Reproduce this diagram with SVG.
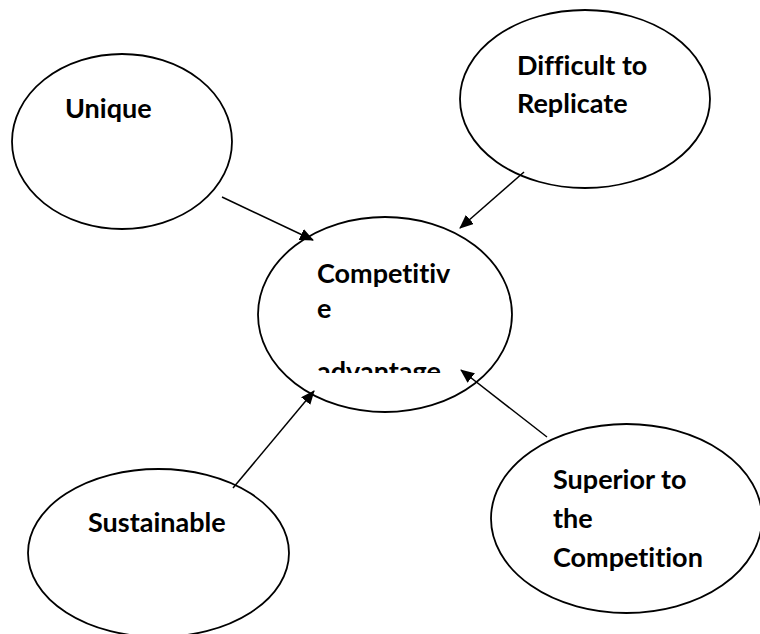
<svg xmlns="http://www.w3.org/2000/svg" width="760" height="634" viewBox="0 0 760 634">
<style>
.node{fill:#fff;stroke:#000;stroke-width:1.8}
.lbl{font-family:Lato,"Open Sans","Liberation Sans",sans-serif;font-weight:bold;font-size:27px;fill:#000;font-variant-ligatures:none}
.edge{stroke:#000;stroke-width:1.5;fill:none;marker-end:url(#ah)}
</style>
<defs>
<marker id="ah" markerWidth="14" markerHeight="12" refX="13" refY="6" orient="auto" markerUnits="userSpaceOnUse">
<path d="M0,0 L14,6 L0,12 Z" fill="#000"/>
</marker>
<clipPath id="clipAdv"><rect x="250" y="200" width="300" height="173"/></clipPath>
</defs>
<rect width="760" height="634" fill="#fff"/>
<g id="unique">
<ellipse class="node" cx="122" cy="141.5" rx="110" ry="87.5"/>
<text class="lbl" x="65" y="118">Unique</text>
</g>
<g id="difficult">
<ellipse class="node" cx="585" cy="99" rx="125" ry="89"/>
<text class="lbl" x="517" y="75">Difficult to</text>
<text class="lbl" x="517" y="113">Replicate</text>
</g>
<g id="competitive">
<ellipse class="node" cx="385" cy="314.5" rx="127" ry="97.5"/>
<text class="lbl" x="317" y="283">Competitiv</text>
<text class="lbl" x="317" y="318">e</text>
<text class="lbl" x="317" y="381" clip-path="url(#clipAdv)">advantage</text>
</g>
<g id="sustainable">
<ellipse class="node" cx="158.5" cy="553" rx="130.5" ry="84"/>
<text class="lbl" x="88" y="532">Sustainable</text>
</g>
<g id="superior">
<ellipse class="node" cx="626.5" cy="518.5" rx="135.5" ry="94.5"/>
<text class="lbl" x="553" y="489">Superior to</text>
<text class="lbl" x="553" y="528">the</text>
<text class="lbl" x="553" y="567">Competition</text>
</g>
<g id="connectors">
<line class="edge" x1="222" y1="197" x2="313" y2="240"/>
<line class="edge" x1="524" y1="172" x2="460" y2="228"/>
<line class="edge" x1="233" y1="488" x2="314" y2="391"/>
<line class="edge" x1="547" y1="437" x2="461" y2="370"/>
</g>
</svg>
